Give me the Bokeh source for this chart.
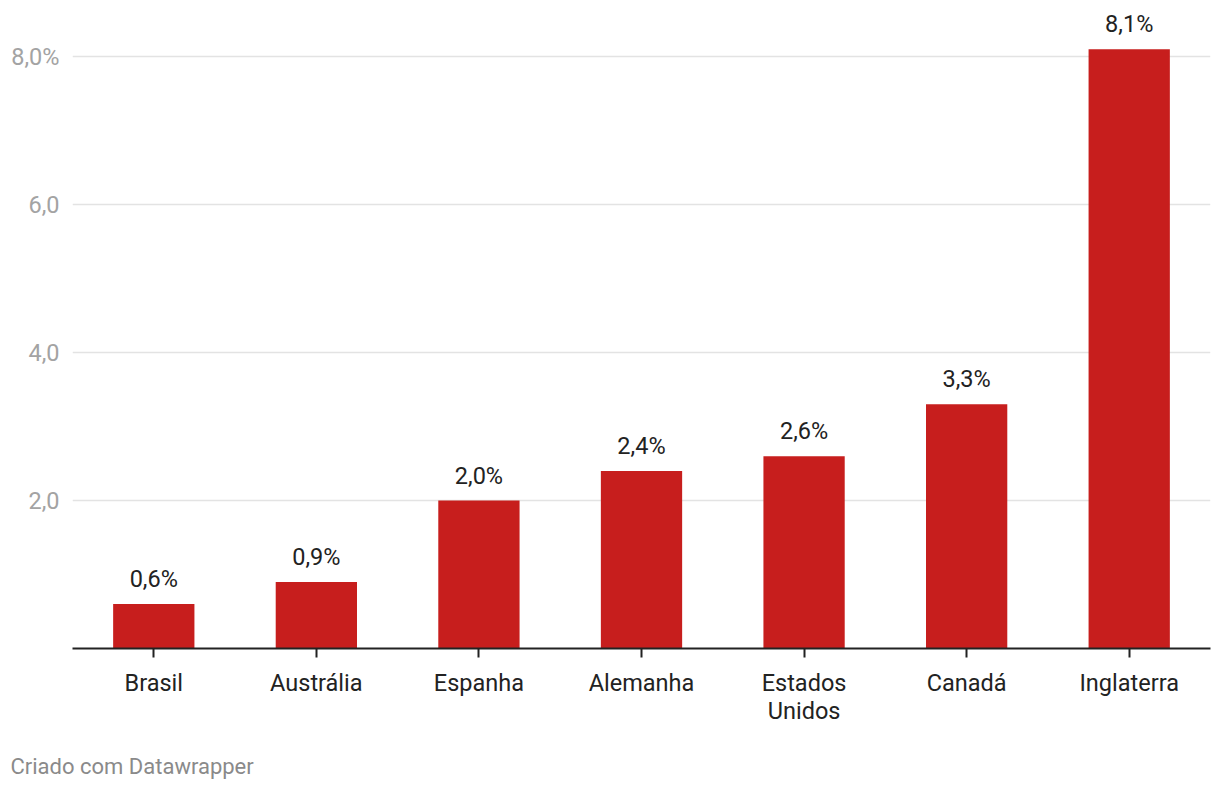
from bokeh.plotting import figure
from bokeh.models import ColumnDataSource, FactorRange, Range1d, FixedTicker, Title
from bokeh.core.properties import value
from bokeh.embed import file_html
from bokeh.resources import INLINE

countries = ["Brasil", "Austrália", "Espanha", "Alemanha", "Estados\nUnidos", "Canadá", "Inglaterra"]
values = [0.6, 0.9, 2.0, 2.4, 2.6, 3.3, 8.1]
labels = ["0,6%", "0,9%", "2,0%", "2,4%", "2,6%", "3,3%", "8,1%"]
y_ticks = [2, 4, 6, 8]
y_tick_labels = ["2,0", "4,0", "6,0", "8,0%"]
footer = "Criado com Datawrapper"

FONT = "Roboto"
FS = "23.5px"

src = ColumnDataSource(dict(country=countries, val=values, lab=labels))

p = figure(width=1212, height=806, output_backend="svg", toolbar_location=None,
           x_range=FactorRange(factors=countries, range_padding=0),
           y_range=Range1d(0, 8.65),
           min_border_left=72, min_border_right=2, min_border_top=8, min_border_bottom=158)
p.outline_line_color = None
p.background_fill_color = "white"
p.border_fill_color = "white"

p.vbar(x="country", top="val", width=0.5, source=src, color="#c71e1d", line_color=None)
p.text(x="country", y="val", text="lab", source=src, text_align="center", text_baseline="bottom",
       y_offset=-11, text_font=value(FONT), text_font_size=FS, text_color="#222222")

# y axis
p.yaxis.ticker = FixedTicker(ticks=y_ticks)
p.yaxis.major_label_overrides = {t: l for t, l in zip(y_ticks, y_tick_labels)}
p.yaxis.axis_line_color = None
p.yaxis.major_tick_line_color = None
p.yaxis.minor_tick_line_color = None
p.yaxis.major_label_text_font = FONT
p.yaxis.major_label_text_font_size = FS
p.yaxis.major_label_text_color = "#a3a3a3"
p.yaxis.major_label_standoff = 7

p.ygrid.ticker = FixedTicker(ticks=y_ticks)
p.ygrid.grid_line_color = "#e3e3e3"
p.ygrid.grid_line_width = 1.5
p.xgrid.grid_line_color = None

# x axis
p.xaxis.axis_line_color = "#222222"
p.xaxis.axis_line_width = 2
p.xaxis.major_tick_line_color = "#222222"
p.xaxis.major_tick_line_width = 2
p.xaxis.major_tick_out = 9
p.xaxis.major_tick_in = 0
p.xaxis.major_label_text_font = FONT
p.xaxis.major_label_text_font_size = FS
p.xaxis.major_label_text_color = "#222222"
p.xaxis.major_label_text_line_height = 1.0
p.xaxis.major_label_standoff = 11

p.add_layout(Title(text=footer, align="left", offset=-62, standoff=52, vertical_align="top",
                   text_font=FONT, text_font_size="22px", text_font_style="normal",
                   text_color="#8a8a8a"), "below")

open("out.html", "w").write(file_html(p, INLINE))
